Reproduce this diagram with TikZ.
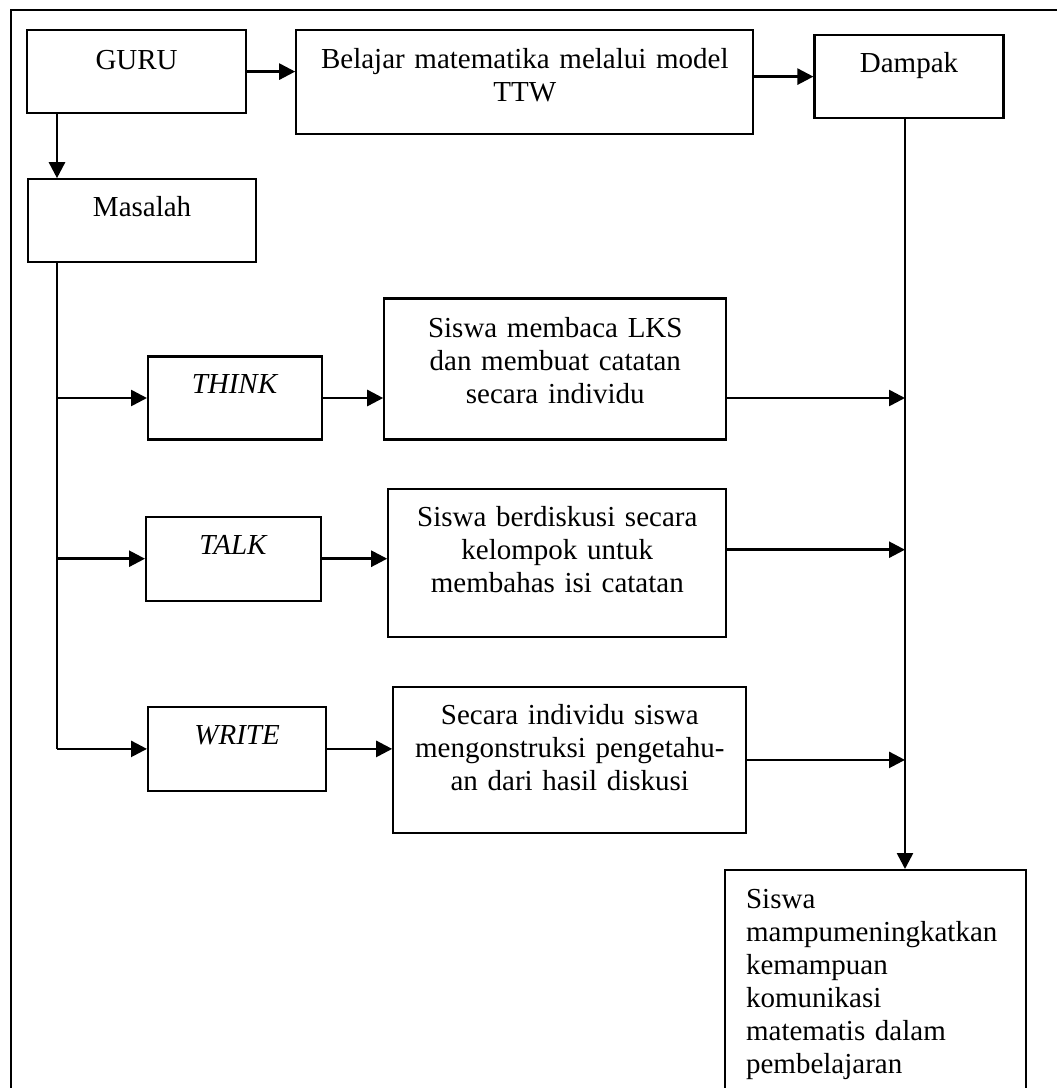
\documentclass[tikz,border=0pt]{standalone}
\usepackage{fontspec}
\setmainfont{Liberation Serif}
\usetikzlibrary{positioning,arrows.meta}

\begin{document}
\begin{tikzpicture}[x=1pt,y=-1pt,
    box/.style={draw,line width=2.2pt,inner sep=0pt,anchor=north west,align=center,font=\fontsize{29}{33}\selectfont},
    wire/.style={line width=2.6pt},
    arrow/.style={wire,-{Triangle[length=16pt,width=16pt]}}]
    \useasboundingbox (0,0) rectangle (1057,1088);
    \draw[wire] (11,1088) -- (11,10) -- (1057,10);

    \node[box,text width=219pt,text height=39pt,text depth=44pt] (guru) at (26,29) {GURU};
    \node[box,text width=457pt,text height=38pt,text depth=66pt] (ttw) [right=48pt of guru.north east,anchor=north west] {Belajar matematika melalui model\\TTW};
    \node[box,text width=189pt,text height=37pt,text depth=46pt] (dampak) [right=59pt of ttw.north east,anchor=north west,yshift=-5pt] {Dampak};
    \node[box,text width=228pt,text height=37pt,text depth=46pt] (masalah) [below right=64pt and 1pt of guru.south west] {Masalah};

    \node[box,text width=174pt,text height=37pt,text depth=46pt] (think) [below right=92pt and 120pt of masalah.south west] {\textit{THINK}};
    \node[box,text width=175pt,text height=38pt,text depth=46pt] (talk) [below right=75pt and -2pt of think.south west] {\textit{TALK}};
    \node[box,text width=178pt,text height=38pt,text depth=46pt] (write) [below right=104pt and 2pt of talk.south west] {\textit{WRITE}};

    \node[box,text width=342pt,text height=39pt,text depth=102pt] (lks) [right=60pt of think.north east,anchor=north west,yshift=58pt] {Siswa membaca LKS\\dan membuat catatan\\secara individu};
    \node[box,text width=338pt,text height=38pt,text depth=110pt] (diskusi) [right=65pt of talk.north east,anchor=north west,yshift=28pt] {Siswa berdiskusi secara\\kelompok untuk\\membahas isi catatan};
    \node[box,text width=353pt,text height=38pt,text depth=108pt] (konstruksi) [right=65pt of write.north east,anchor=north west,yshift=20pt] {Secara individu siswa\\mengonstruksi pengetahu-\\an dari hasil diskusi};

    \node[box,align=left,inner xsep=21pt,text width=259pt,text height=38pt,text depth=193pt] (hasil) at (724,869) {Siswa\\mampumeningkatkan\\kemampuan\\komunikasi\\matematis dalam\\pembelajaran};

    % connectors
    \coordinate (spine) at ([xshift=30pt]masalah.south west);
    \coordinate (bus) at ([xshift=-4pt]dampak.south);
    \coordinate (d2) at ([yshift=13pt]diskusi.east);

    \draw[arrow] (guru.east) -- (guru.east -| ttw.west);
    \draw[arrow] (ttw.east |- dampak.west) -- (dampak.west);
    \draw[arrow] ([xshift=31pt]guru.south west) -- ([xshift=31pt]guru.south west |- masalah.north);
    \draw[wire] (spine) -- (spine |- write.west);
    \foreach \n/\m in {think/lks,talk/diskusi,write/konstruksi}{
        \draw[arrow] (spine |- \n.west) -- (\n.west);
        \draw[arrow] (\n.east) -- (\n.east -| \m.west);
    }
    \draw[arrow] (lks.east |- think.east) -- (bus |- think.east);
    \draw[arrow] (d2) -- (bus |- d2);
    \draw[arrow] (konstruksi.east) -- (bus |- konstruksi.east);
    \draw[arrow] (bus) -- (bus |- hasil.north);
\end{tikzpicture}
\end{document}
